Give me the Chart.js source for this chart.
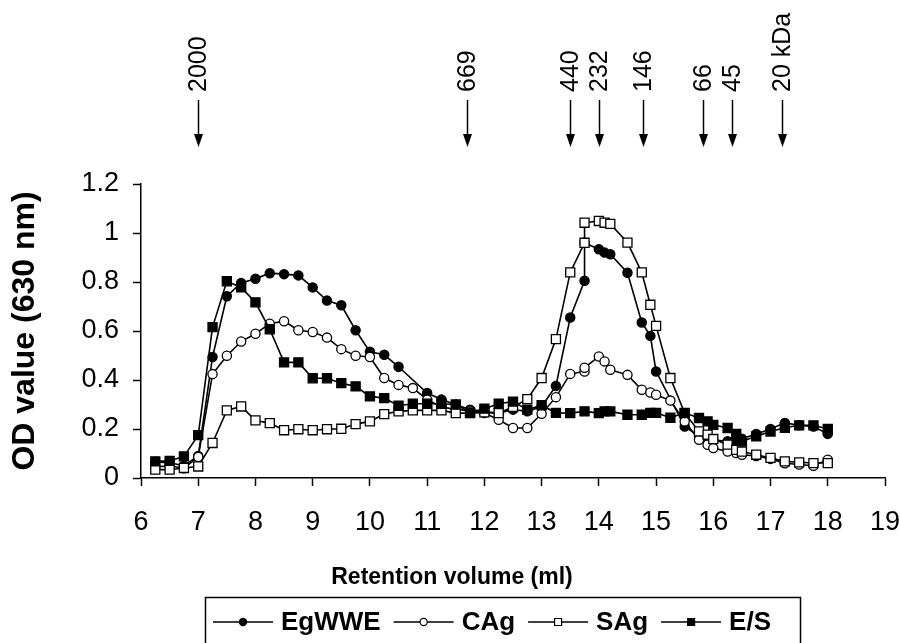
<!DOCTYPE html>
<html>
<head>
<meta charset="UTF-8">
<title>OD value vs retention volume</title>
<script src="https://cdn.jsdelivr.net/npm/chart.js@4.4.0/dist/chart.umd.min.js"></script>
<style>
    body { margin: 0; background: #fff; }
    #wrap { width: 900px; height: 643px; }
</style>
</head>
<body>
<div id="wrap"><canvas id="chart" width="900" height="643"></canvas></div>
<script>
// retention volume (ml) of each fraction; 13.75 appears twice (two readings)
const volumes = [6.25, 6.5, 6.75, 7, 7.25, 7.5, 7.75, 8, 8.25, 8.5, 8.75, 9, 9.25, 9.5, 9.75,
    10, 10.25, 10.5, 10.75, 11, 11.25, 11.5, 11.75, 12, 12.25, 12.5, 12.75, 13, 13.25, 13.5,
    13.75, 13.75, 14, 14.1, 14.2, 14.5, 14.75, 14.9, 15, 15.25, 15.5, 15.75, 15.9, 16, 16.25,
    16.4, 16.5, 16.75, 17, 17.25, 17.5, 17.75, 18];

const egwwe = [0.066, 0.062, 0.05, 0.09, 0.494, 0.742, 0.796, 0.813, 0.836, 0.832, 0.827, 0.778, 0.724, 0.705, 0.603,
    0.515, 0.503, 0.454, null, 0.347, 0.32, 0.3, 0.279, 0.27, 0.265, 0.279, 0.272, 0.292, 0.376, 0.655,
    0.805, 0.96, 0.934, 0.92, 0.913, 0.838, 0.635, 0.58, 0.435, null, 0.21, 0.17, 0.16, 0.155, 0.15,
    0.145, 0.16, 0.18, 0.2, 0.225, 0.215, 0.21, 0.18];

const cag = [0.045, 0.05, 0.04, 0.086, 0.424, 0.499, 0.557, 0.589, 0.63, 0.64, 0.603, 0.596, 0.573, 0.526, 0.499,
    0.494, 0.408, 0.38, 0.367, 0.32, 0.29, 0.28, 0.275, 0.265, 0.238, 0.204, 0.204, 0.262, 0.33, 0.425,
    0.435, 0.45, 0.496, 0.476, 0.442, 0.421, 0.36, 0.349, 0.34, 0.316, 0.231, 0.156, 0.136, 0.122, 0.108,
    0.102, 0.095, 0.09, 0.078, 0.06, 0.055, 0.05, 0.075];

const sag = [0.034, 0.034, 0.041, 0.047, 0.143, 0.276, 0.292, 0.235, 0.224, 0.195, 0.199, 0.195, 0.199, 0.201, 0.22,
    0.231, 0.261, 0.272, 0.276, 0.276, 0.276, 0.265, 0.265, 0.268, 0.265, 0.29, 0.322, 0.408, 0.567, 0.839,
    0.96, 1.042, 1.049, 1.042, 1.037, 0.961, 0.839, 0.707, 0.621, 0.408, 0.265, 0.19, 0.177, 0.159, 0.136,
    0.115, 0.108, 0.095, 0.082, 0.068, 0.064, 0.061, 0.061];

const es = [0.068, 0.07, 0.088, 0.175, 0.616, 0.803, 0.778, 0.717, 0.607, 0.472, 0.472, 0.407, 0.407, 0.387, 0.374,
    0.333, 0.326, 0.295, 0.303, 0.303, 0.303, 0.3, 0.268, 0.283, 0.303, 0.312, 0.279, 0.297, 0.266, 0.265,
    0.272, null, 0.265, 0.272, 0.272, 0.258, 0.258, 0.266, 0.266, 0.246, 0.266, 0.245, 0.231, 0.217, 0.204,
    0.18, 0.15, 0.17, 0.19, 0.205, 0.215, 0.215, 0.2];

// molecular weight standards (arrows above the plot)
const markerVolumes = [7, 11.7, 13.5, 14, 14.78, 15.82, 16.32, 17.2];
const markerLabels = ['2000', '669', '440', '232', '146', '66', '45', '20 kDa'];

const FONT = "'Liberation Sans', Arial, Helvetica, sans-serif";

function points(values) {
    return volumes.map((v, i) => ({ x: v, y: values[i] }));
}

const markersPlugin = {
    id: 'mwMarkers',
    afterDraw(chart) {
        const ctx = chart.ctx;
        const xs = chart.scales.x;
        ctx.save();
        ctx.fillStyle = '#000';
        ctx.strokeStyle = '#000';
        ctx.lineWidth = 1.5;
        ctx.font = '25px ' + FONT;
        markerVolumes.forEach((v, i) => {
            const px = Math.round(xs.getPixelForValue(v)) + 0.5;
            ctx.beginPath();
            ctx.moveTo(px, 100);
            ctx.lineTo(px, 136);
            ctx.stroke();
            ctx.beginPath();
            ctx.moveTo(px - 4.5, 134);
            ctx.lineTo(px + 4.5, 134);
            ctx.lineTo(px, 147);
            ctx.closePath();
            ctx.fill();
            ctx.save();
            ctx.translate(px + 1, 92);
            ctx.rotate(-Math.PI / 2);
            ctx.textAlign = 'left';
            ctx.textBaseline = 'middle';
            ctx.fillText(markerLabels[i], 0, 0);
            ctx.restore();
        });
        ctx.restore();
    }
};

const bottomPlugin = {
    id: 'bottomLegend',
    afterDraw(chart) {
        const ctx = chart.ctx;
        ctx.save();
        ctx.fillStyle = '#000';
        ctx.strokeStyle = '#000';
        ctx.textBaseline = 'middle';

        // x axis title
        ctx.font = 'bold 23px ' + FONT;
        ctx.textAlign = 'center';
        ctx.fillText('Retention volume (ml)', 452, 578);

        // legend box
        ctx.lineWidth = 1.5;
        ctx.strokeRect(205.5, 597.5, 595, 60);

        ctx.font = 'bold 26px ' + FONT;
        ctx.textAlign = 'left';
        const y = 622;
        let x = 213;
        chart.data.datasets.forEach(ds => {
            ctx.lineWidth = 1.6;
            ctx.beginPath();
            ctx.moveTo(x, y);
            ctx.lineTo(x + 60, y);
            ctx.stroke();
            ctx.lineWidth = 1.2;
            ctx.fillStyle = ds.pointBackgroundColor;
            ctx.beginPath();
            if (ds.pointStyle === 'rect') {
                ctx.rect(x + 26.5, y - 3.5, 7, 7);
            } else {
                ctx.arc(x + 30, y, 3.6, 0, Math.PI * 2);
            }
            ctx.fill();
            ctx.stroke();
            ctx.fillStyle = '#000';
            ctx.fillText(ds.label, x + 68, y + 1);
            x += 68 + ctx.measureText(ds.label).width + 13;
        });
        ctx.restore();
    }
};

function series(label, values, style, fill, order) {
    return {
        label: label,
        data: points(values),
        borderColor: '#000',
        borderWidth: 1.6,
        pointStyle: style,
        pointRadius: style === 'rect' ? 6.4 : 4.6,
        pointBackgroundColor: fill,
        pointBorderColor: '#000',
        pointBorderWidth: 1.3,
        spanGaps: true,
        tension: 0,
        order: order
    };
}

new Chart(document.getElementById('chart'), {
    type: 'line',
    data: {
        datasets: [
            series('EgWWE', egwwe, 'circle', '#000', 4),
            series('CAg', cag, 'circle', '#fff', 3),
            series('SAg', sag, 'rect', '#fff', 2),
            series('E/S', es, 'rect', '#000', 1)
        ]
    },
    options: {
        responsive: false,
        animation: false,
        devicePixelRatio: 1,
        layout: { padding: { top: 184, right: 15, left: 0, bottom: 0 } },
        plugins: {
            legend: { display: false },
            tooltip: { enabled: false }
        },
        scales: {
            x: {
                type: 'linear',
                min: 6,
                max: 19,
                ticks: { stepSize: 1, color: '#000', font: { family: FONT, size: 27 }, padding: 20, maxRotation: 0 },
                grid: { drawOnChartArea: false, tickLength: 8, tickColor: '#000', tickWidth: 1.5 },
                border: { color: '#000', width: 1.5 },
                afterFit: s => {
                    s.height = 165;
                    s.paddingLeft = 0;
                    s.paddingRight = 0;
                }
            },
            y: {
                min: 0,
                max: 1.2,
                ticks: {
                    stepSize: 0.2, color: '#000', font: { family: FONT, size: 27 }, padding: 14,
                    callback: v => +v.toFixed(1)
                },
                grid: { drawOnChartArea: false, tickLength: 8, tickColor: '#000', tickWidth: 1.5 },
                border: { color: '#000', width: 1.5 },
                title: {
                    display: true, text: 'OD value (630 nm)', color: '#000',
                    font: { family: FONT, size: 32, weight: 'bold' }, padding: { top: 6, bottom: 0 }
                },
                afterFit: s => { s.width = 141; }
            }
        }
    },
    plugins: [markersPlugin, bottomPlugin]
});
</script>
</body>
</html>
